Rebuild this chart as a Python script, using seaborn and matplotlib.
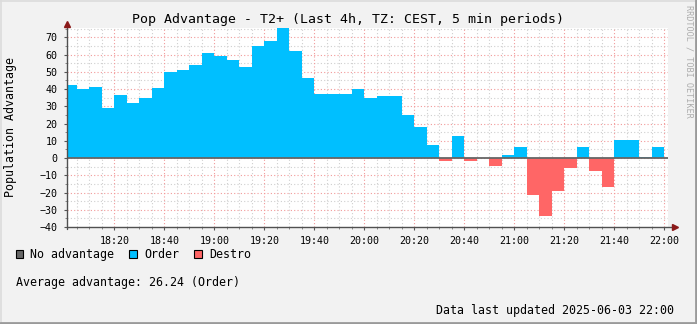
import matplotlib
matplotlib.use("Agg")
import matplotlib.pyplot as plt
from matplotlib.patches import Rectangle
from matplotlib.lines import Line2D
import numpy as np
import pandas as pd
import seaborn as sns

# ---- data -------------------------------------------------------------
period_start = [f"{18 + m // 60}:{m % 60:02d}" for m in range(0, 240, 5)]
advantage = [42.3, 40.0, 41.2, 29.2, 36.5, 32.1, 34.8, 40.6,
             50.1, 51.0, 53.9, 60.9, 59.4, 56.8, 52.8, 65.2,
             67.9, 75.4, 62.1, 46.4, 37.1, 37.1, 37.1, 40.0,
             34.8, 36.0, 36.0, 24.9, 18.0, 7.5, -2.0, 13.0,
             -1.5, 0.0, -4.4, 1.9, 6.5, -21.4, -33.4, -18.9,
             -5.6, 6.4, -7.3, -16.6, 10.4, 10.4, 0.6, 6.4]
tick_labels = ["18:20", "18:40", "19:00", "19:20", "19:40", "20:00",
               "20:20", "20:40", "21:00", "21:20", "21:40", "22:00"]
legend_labels = ["No advantage", "Order", "Destro"]
legend_colors = ["#666666", "#00BFFF", "#FF6666"]
title = "Pop Advantage - T2+ (Last 4h, TZ: CEST, 5 min periods)"
ylabel = "Population Advantage"
avg_text = "Average advantage: 26.24 (Order)"
updated_text = "Data last updated 2025-06-03 22:00"
watermark = "RRDTOOL / TOBI OETIKER"

# ---- build frame --------------------------------------------------------
def to_min(s):
    h, m = s.split(":")
    return (int(h) - 18) * 60 + int(m)

df = pd.DataFrame({
    "start": period_start,
    "value": advantage,
})
df["mid"] = df["start"].map(to_min) + 2.5
df["side"] = np.where(df["value"] > 0, "Order",
                      np.where(df["value"] < 0, "Destro", "No advantage"))
palette = dict(zip(legend_labels, legend_colors))

# ---- figure -------------------------------------------------------------
W, H = 697, 324
BG = "#F2F2F2"
MONO = "DejaVu Sans Mono"
sns.set_style("white")
plt.rcParams["font.family"] = [MONO]

fig = plt.figure(figsize=(W / 100, H / 100), dpi=100, facecolor=BG)
left_px, right_px, top_px, bot_px = 66.7, 668.0, 27.5, 227.0
ax = fig.add_axes([left_px / W, 1 - bot_px / H,
                   (right_px - left_px) / W, (bot_px - top_px) / H])
ax.set_facecolor("white")

xmin = 0.96
xmax = xmin + (right_px - left_px) / 2.5
ymin, ymax = -40, 75.7

# grids
minor_c, major_c = "#cfcfcf", "#f29a9a"
dot = (0, (1, 2))
for xm in np.arange(5, 241, 5):
    if xm % 20 != 0:
        ax.axvline(xm, color=minor_c, lw=0.8, ls=dot, zorder=0)
for ym in np.arange(-35, 76, 5):
    if ym % 10 != 0:
        ax.axhline(ym, color=minor_c, lw=0.8, ls=dot, zorder=0)
for xm in np.arange(20, 241, 20):
    ax.axvline(xm, color=major_c, lw=0.8, ls=dot, zorder=0.5)
for ym in np.arange(-30, 71, 10):
    ax.axhline(ym, color=major_c, lw=0.8, ls=dot, zorder=0.5)

sns.barplot(data=df, x="mid", y="value", hue="side", palette=palette,
            native_scale=True, dodge=False, width=1.0, errorbar=None,
            legend=False, linewidth=0, edgecolor="none", saturation=1,
            ax=ax, zorder=2)
for p in ax.patches:
    p.set_antialiased(False)

ax.axhline(0, color="#666666", lw=1.3, zorder=3)

ax.set_xlim(xmin, xmax)
ax.set_ylim(ymin, ymax)
ax.set_xticks(np.arange(20, 241, 20))
ax.set_xticklabels(tick_labels)
ax.set_xticks(np.arange(5, 241, 5), minor=True)
ax.set_yticks(np.arange(-40, 71, 10))
ax.set_yticks(np.arange(-35, 76, 5), minor=True)
ax.tick_params(axis="both", which="major", direction="out", length=2.5,
               width=0.8, color="#555555", labelsize=7.2, pad=4,
               labelcolor="black", bottom=True, left=True)
ax.tick_params(axis="both", which="minor", direction="out", length=1.5,
               width=0.6, color="#777777", bottom=True, left=True)
for lab in ax.get_xticklabels() + ax.get_yticklabels():
    lab.set_family(MONO)
ax.set_xlabel("")
ax.set_ylabel("")
for s in ax.spines.values():
    s.set_visible(False)

# axis lines with arrows
ax.plot([0, 1.012], [0, 0], transform=ax.transAxes, color="#505050",
        lw=1.0, clip_on=False, zorder=4)
ax.plot([0, 0], [-0.01, 1.02], transform=ax.transAxes, color="#505050",
        lw=1.0, clip_on=False, zorder=4)
ax.plot([1.012], [0], transform=ax.transAxes, marker=">", ms=5,
        color="#8B1A1A", clip_on=False, zorder=5)
ax.plot([0], [1.02], transform=ax.transAxes, marker="^", ms=5,
        color="#8B1A1A", clip_on=False, zorder=5)

# texts (pixel coordinates -> figure fraction)
def fx(px):
    return px / W

def fy(py):
    return 1 - py / H

fig.text(fx(348.0), fy(23.5), title, fontsize=9.5, family=MONO,
         ha="center", va="baseline", color="black")
fig.text(fx(10.5), fy(127), ylabel, fontsize=8.4, family=MONO,
         rotation=90, ha="center", va="center", color="black")
fig.text(fx(688.5), fy(5), watermark, fontsize=6.1, family=MONO,
         rotation=270, ha="center", va="top", color="#adadad")

# legend
legend_box_x = [15.7, 129.3, 194.3]
legend_text_x = [30, 144, 209]
for lab, col, bx, tx in zip(legend_labels, legend_colors,
                            legend_box_x, legend_text_x):
    fig.patches.append(Rectangle((fx(bx), fy(258.3)), 7.6 / W, 8.3 / H,
                                 transform=fig.transFigure,
                                 facecolor=col, edgecolor="black", lw=0.8))
    fig.text(fx(tx), fy(258.3), lab, fontsize=8.35, family=MONO,
             ha="left", va="baseline", color="black")

fig.text(fx(16), fy(286), avg_text, fontsize=8.35, family=MONO,
         ha="left", va="baseline", color="black")
fig.text(fx(673.5), fy(314), updated_text, fontsize=8.35, family=MONO,
         ha="right", va="baseline", color="black")

# frame border (rrdtool style shading)
fig.lines.append(Line2D([0, 1], [1 - 0.5 / H, 1 - 0.5 / H],
                        transform=fig.transFigure, color="#dcdcdc", lw=1.2))
fig.lines.append(Line2D([0.5 / W, 0.5 / W], [0, 1],
                        transform=fig.transFigure, color="#dcdcdc", lw=1.2))
fig.lines.append(Line2D([0, 1], [1.2 / H, 1.2 / H],
                        transform=fig.transFigure, color="#9a9a9a", lw=2.0))
fig.lines.append(Line2D([1 - 1.2 / W, 1 - 1.2 / W], [0, 1],
                        transform=fig.transFigure, color="#9a9a9a", lw=2.0))

fig.savefig("out.png", dpi=100, facecolor=BG)
